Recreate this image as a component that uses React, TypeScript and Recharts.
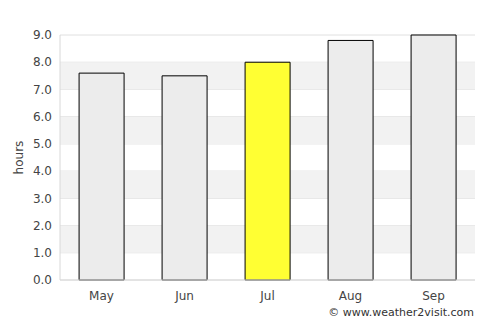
import {
  BarChart,
  Bar,
  XAxis,
  YAxis,
  CartesianGrid,
  ReferenceArea,
  Cell,
} from "recharts";

const months = ["May", "Jun", "Jul", "Aug", "Sep"];
const hours = [7.6, 7.5, 8.0, 8.8, 9.0];
const yTicks = [0, 1, 2, 3, 4, 5, 6, 7, 8, 9];
const highlightMonth = "Jul";

const data = months.map((m, i) => ({ month: m, hours: hours[i] }));

// shaded stripes sit between every other pair of ticks (1-2, 3-4, ...)
const bands = yTicks
  .slice(0, -1)
  .filter((t, i) => i % 2 === 1)
  .map((t) => [t, t + 1]);

const FONT = "'DejaVu Sans', sans-serif";

export default function App() {
  return (
    <div
      style={{
        position: "absolute",
        left: 0,
        top: 0,
        width: 500,
        height: 325,
        background: "#fff",
        fontFamily: FONT,
      }}
    >
      <BarChart
        width={500}
        height={325}
        data={data}
        margin={{ top: 35, right: 25, left: 0, bottom: 15 }}
        barCategoryGap="23%"
      >
        {bands.map(([a, b]) => (
          <ReferenceArea
            key={a}
            y1={a}
            y2={b}
            fill="#f2f2f2"
            fillOpacity={1}
            stroke="none"
          />
        ))}
        <CartesianGrid vertical={false} stroke="#e0e0e0" />
        <XAxis
          dataKey="month"
          axisLine={{ stroke: "#d8d8d8" }}
          tickLine={false}
          tickMargin={5}
          height={30}
          tick={{ fontSize: 12, fill: "#444", fontFamily: FONT }}
        />
        <YAxis
          domain={[0, 9]}
          ticks={yTicks}
          interval={0}
          width={60}
          axisLine={{ stroke: "#d8d8d8" }}
          tickLine={false}
          tickFormatter={(v: number) => v.toFixed(1)}
          tick={{ fontSize: 12, fill: "#444", fontFamily: FONT }}
          label={{
            value: "hours",
            angle: -90,
            position: "insideLeft",
            offset: 19,
            style: { fontSize: 12, fill: "#444", fontFamily: FONT, textAnchor: "middle" },
          }}
        />
        <YAxis
          yAxisId="right"
          orientation="right"
          width={0}
          domain={[0, 9]}
          tick={false}
          tickLine={false}
          axisLine={{ stroke: "#d8d8d8" }}
        />
        <Bar
          dataKey="hours"
          stroke="#000"
          strokeWidth={1}
          isAnimationActive={false}
        >
          {data.map((d) => (
            <Cell
              key={d.month}
              fill={d.month === highlightMonth ? "#ffff33" : "#ececec"}
            />
          ))}
        </Bar>
      </BarChart>
      <div
        style={{
          position: "absolute",
          right: 26,
          top: 306,
          fontSize: 11,
          color: "#333",
          fontFamily: FONT,
        }}
      >
        © www.weather2visit.com
      </div>
    </div>
  );
}
